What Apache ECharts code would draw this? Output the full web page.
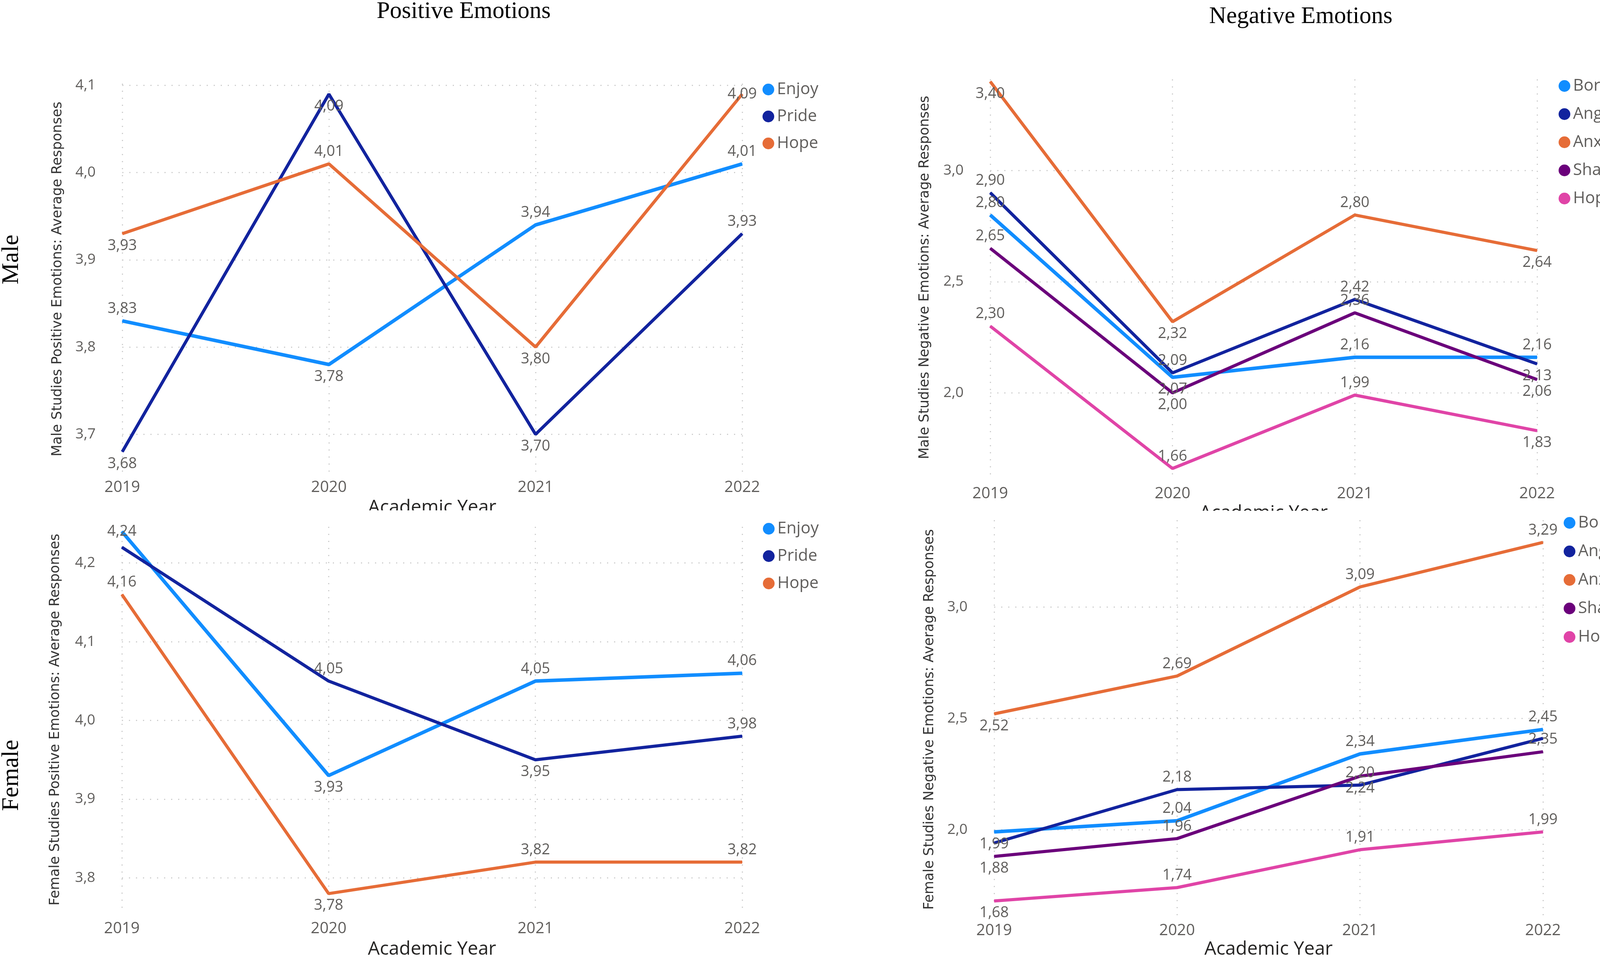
<!DOCTYPE html>
<html><head><meta charset="utf-8">
<script src="https://cdn.jsdelivr.net/npm/echarts@6/dist/echarts.min.js"></script>
<style>html,body{margin:0;padding:0;background:#fff;overflow:hidden}#c{width:4330px;height:2454px}</style>
</head><body><div id="c"></div>
<script>
// ---------- data ----------
const years = ['2019', '2020', '2021', '2022'];
const posNames = ['Enjoy', 'Pride', 'Hope'];
const negNames = ['Boredom', 'Anger', 'Anxiety', 'Shame', 'Hopelessness'];

const maleEnjoy = [3.83, 3.78, 3.94, 4.01];
const malePride = [3.68, 4.09, 3.70, 3.93];
const maleHope  = [3.93, 4.01, 3.80, 4.09];

const maleBoredom  = [2.80, 2.07, 2.16, 2.16];
const maleAnger    = [2.90, 2.09, 2.42, 2.13];
const maleAnxiety  = [3.40, 2.32, 2.80, 2.64];
const maleShame    = [2.65, 2.00, 2.36, 2.06];
const maleHopeless = [2.30, 1.66, 1.99, 1.83];

const femEnjoy = [4.24, 3.93, 4.05, 4.06];
const femPride = [4.22, 4.05, 3.95, 3.98];
const femHope  = [4.16, 3.78, 3.82, 3.82];

const femBoredom  = [1.99, 2.04, 2.34, 2.45];
const femAnger    = [1.94, 2.18, 2.20, 2.41];
const femAnxiety  = [2.52, 2.69, 3.09, 3.29];
const femShame    = [1.88, 1.96, 2.24, 2.35];
const femHopeless = [1.68, 1.74, 1.91, 1.99];

const ticksMalePos = [3.7, 3.8, 3.9, 4.0, 4.1];
const ticksFemPos  = [3.8, 3.9, 4.0, 4.1, 4.2];
const ticksNeg     = [2.0, 2.5, 3.0];

// ---------- style ----------
const COLORS = { Enjoy:'#118DFF', Pride:'#12239E', Hope:'#E66C37',
  Boredom:'#118DFF', Anger:'#12239E', Anxiety:'#E66C37', Shame:'#6B007B', Hopelessness:'#E044A7' };
const FONT = '"Open Sans", "Noto Sans", sans-serif';
const GRAY = '#605E5C';
const gridLine = { show:true, lineStyle:{ color:'#CFCFCF', width:3, type:[3,15] } };

// label placement per point (style only)
const LP = {
  mEnjoy:['top','bottom','top','top'], mPride:['bottom','bottom','bottom','top'], mHope:['bottom','top','bottom','inside'],
  mBoredom:['top','bottom','top','top'], mAnger:['top','top','top','bottom'], mAnxiety:['bottom','bottom','top','bottom'],
  mShame:['top','bottom','top','bottom'], mHopeless:['top','top','top','bottom'],
  fEnjoy:['inside','bottom','top','top'], fPride:[null,'top','bottom','top'], fHope:['top','bottom','top','top'],
  fBoredom:['bottom','top','top','top'], fAnger:[null,'top','top',null], fAnxiety:['bottom','top','top','top'],
  fShame:['bottom','top','bottom','top'], fHopeless:['bottom','top','top','top']
};

const grids = [
  { left:313,  top:214,  width:1587, height:1000 },
  { left:2535, top:203,  width:1400, height:1014 },
  { left:312,  top:1348, width:1588, height:988 },
  { left:2545, top:1331, width:1405, height:1022 }
];
const yCfg = [
  { min:3.654, max:4.102, ticks:ticksMalePos, name:'Male Studies Positive Emotions: Average Responses', gap:148 },
  { min:1.628, max:3.41,  ticks:ticksNeg,     name:'Male Studies Negative Emotions: Average Responses', gap:150 },
  { min:3.756, max:4.246, ticks:ticksFemPos,  name:'Female Studies Positive Emotions: Average Responses', gap:153 },
  { min:1.60,  max:3.39,  ticks:ticksNeg,     name:'Female Studies Negative Emotions: Average Responses', gap:148 }
];
const xCfg = [ { margin:14, gap:61 }, { margin:27, gap:72 }, { margin:22, gap:70 }, { margin:11, gap:54 } ];

const fmt1 = v => v.toFixed(1).replace('.', ',');
const fmt2 = v => v.toFixed(2).replace('.', ',');

function line(name, data, pos, gi) {
  return {
    type:'line', name, xAxisIndex:gi, yAxisIndex:gi,
    symbol:'circle', symbolSize:2, showSymbol:true,
    lineStyle:{ color:COLORS[name], width: (name==='Enjoy'||name==='Boredom') ? 9 : 8 },
    itemStyle:{ color:COLORS[name] },
    label:{ show:true, fontSize:38, fontFamily:FONT, color:GRAY, distance:11,
            formatter:p => fmt2(p.value) },
    emphasis:{ disabled:true },
    data: data.map((v,i) => ({ value:v, label: pos[i] ? { show:true, position:pos[i] } : { show:false } }))
  };
}

const series = [
  line('Enjoy', maleEnjoy, LP.mEnjoy, 0), line('Pride', malePride, LP.mPride, 0), line('Hope', maleHope, LP.mHope, 0),
  line('Boredom', maleBoredom, LP.mBoredom, 1), line('Anger', maleAnger, LP.mAnger, 1), line('Anxiety', maleAnxiety, LP.mAnxiety, 1),
  line('Shame', maleShame, LP.mShame, 1), line('Hopelessness', maleHopeless, LP.mHopeless, 1),
  line('Enjoy', femEnjoy, LP.fEnjoy, 2), line('Pride', femPride, LP.fPride, 2), line('Hope', femHope, LP.fHope, 2),
  line('Boredom', femBoredom, LP.fBoredom, 3), line('Anger', femAnger, LP.fAnger, 3), line('Anxiety', femAnxiety, LP.fAnxiety, 3),
  line('Shame', femShame, LP.fShame, 3), line('Hopelessness', femHopeless, LP.fHopeless, 3)
];

const xAxis = grids.map((g,i) => ({
  type:'category', gridIndex:i, data:years, boundaryGap:false,
  axisLine:{show:false}, axisTick:{show:false},
  axisLabel:{ fontSize:40, fontFamily:FONT, color:GRAY, margin:xCfg[i].margin },
  splitLine: gridLine,
  name:'Academic Year', nameLocation:'middle', nameGap:xCfg[i].gap,
  nameTextStyle:{ fontSize:48, fontFamily:FONT, color:'#252423' }
}));
const yAxis = yCfg.map((c,i) => ({
  type:'value', gridIndex:i, min:c.min, max:c.max,
  axisLine:{show:false},
  axisTick:{show:false, customValues:c.ticks},
  axisLabel:{ fontSize:37, fontFamily:FONT, color:GRAY, margin:68, customValues:c.ticks, formatter:fmt1 },
  splitLine: gridLine,
  name:c.name, nameLocation:'middle', nameRotate:90, nameGap:c.gap,
  nameTextStyle:{ fontSize:35, fontFamily:'"DejaVu Sans", sans-serif', color:'#333333' }
}));

const legendBase = { orient:'vertical', icon:'circle', itemWidth:30, itemHeight:30,
  textStyle:{ fontSize:42, fontFamily:FONT, color:GRAY, padding:[0,0,0,2] }, selectedMode:false };
const legend = [
  Object.assign({}, legendBase, { data:posNames, left:1947, top:203, itemGap:27 }),
  Object.assign({}, legendBase, { data:negNames, left:3985, top:194, itemGap:30 }),
  Object.assign({}, legendBase, { data:posNames, left:1948, top:1327, itemGap:28 }),
  Object.assign({}, legendBase, { data:negNames, left:3998, top:1312, itemGap:31 })
];

const serif = '"Liberation Serif", "DejaVu Serif", serif';
const graphic = [
  { type:'rect', z:100, shape:{ x:0, y:1306, width:1935, height:32 }, style:{ fill:'#fff' } },
  { type:'rect', z:100, shape:{ x:2165, y:1307, width:1800, height:23 }, style:{ fill:'#fff' } },
  { type:'text', z:101, x:1187, y:30, style:{ text:'Positive Emotions', fontSize:61, fontFamily:serif, fill:'#000', align:'center', verticalAlign:'middle' } },
  { type:'text', z:101, x:3330, y:43, style:{ text:'Negative Emotions', fontSize:61, fontFamily:serif, fill:'#000', align:'center', verticalAlign:'middle' } },
  { type:'text', z:101, x:30, y:664, rotation:Math.PI/2, style:{ text:'Male', fontSize:62, fontFamily:serif, fill:'#000', align:'center', verticalAlign:'middle' } },
  { type:'text', z:101, x:30, y:1984, rotation:Math.PI/2, style:{ text:'Female', fontSize:62, fontFamily:serif, fill:'#000', align:'center', verticalAlign:'middle' } }
];

const chart = echarts.init(document.getElementById('c'), null, { renderer:'canvas' });
chart.setOption({ backgroundColor:'#fff', animation:false, grid:grids, xAxis, yAxis, legend, series, graphic });
</script></body></html>
